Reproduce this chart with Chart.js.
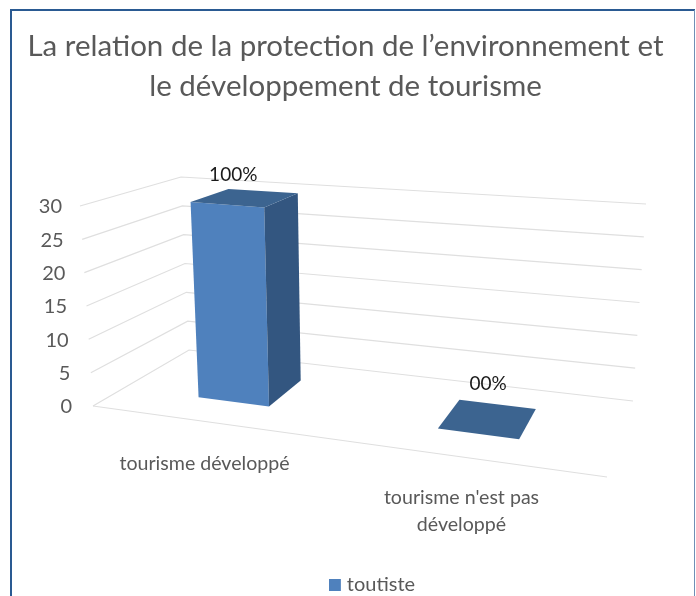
<!DOCTYPE html>
<html lang="fr">
<head>
<meta charset="utf-8">
<style>html,body{margin:0;padding:0;background:#fff}canvas{display:block}</style>
<script src="https://cdn.jsdelivr.net/npm/chart.js@4"></script>
</head>
<body>
<canvas id="c" width="696" height="596"></canvas>
<script>
const titleLines = ["La relation de la protection de l’environnement et", "le développement de tourisme"];
const categories = ["tourisme développé", ["tourisme n'est pas", "développé"]];
const seriesName = "toutiste";
const values = [30, 0];
const valueLabels = ["100%", "00%"];

const GREY = '#595959', GRID = '#dfdfdf';
const FRONT = '#4f81bd', SIDE = '#335680', TOP = '#3c6490';
const FONT = 'Lato';
// perspective frame: floor and top-plane corners
const floorQ = {fl:[93,406], bl:[189,350], br:[633,401], fr:[607,477]};
const topQ   = {fl:[80,206], bl:[181,177], br:[646,204], fr:[617,249]};
const DEPTH_FRONT = 0.33, DEPTH_BACK = 0.75;

const mix = (a,b,t)=>[a[0]+(b[0]-a[0])*t, a[1]+(b[1]-a[1])*t];
const plane = (q,u,w)=>mix(mix(q.fl,q.fr,u), mix(q.bl,q.br,u), w);
const project = (u,w,h)=>mix(plane(floorQ,u,w), plane(topQ,u,w), h);
const warp = u=>-0.0012+0.855*u+0.142*u*u;

// legend swatch: square sitting close to its text
const swatch = document.createElement('canvas');
swatch.width = 14; swatch.height = 12;
const sw = swatch.getContext('2d');
sw.fillStyle = FRONT; sw.fillRect(0,0,12,12);

function poly(ctx, pts, fill){
  ctx.beginPath();
  pts.forEach((p,i)=> i?ctx.lineTo(p[0],p[1]):ctx.moveTo(p[0],p[1]));
  ctx.closePath();
  ctx.fillStyle = fill;
  ctx.fill();
}

const perspective = {
  id:'perspective',
  afterLayout(chart){
    const l = chart.legend;
    l.left += 29.5; l.right += 29.5;
    l.top += 10; l.bottom += 10;
    if (l.adjustHitBoxes) l.adjustHitBoxes();
  },
  beforeDraw(chart){
    const ctx = chart.ctx;
    ctx.save();
    ctx.fillStyle='#fff'; ctx.fillRect(0,0,chart.width,chart.height);
    ctx.strokeStyle='#2a5a92'; ctx.lineWidth=2;
    ctx.beginPath(); ctx.moveTo(11,596); ctx.lineTo(11,10); ctx.lineTo(695,10); ctx.stroke();
    ctx.strokeStyle='#6f8fb5'; ctx.lineWidth=1;
    ctx.beginPath(); ctx.moveTo(694.5,10); ctx.lineTo(694.5,596); ctx.stroke();
    ctx.restore();
  },
  beforeDatasetsDraw(chart){
    const {ctx, scales:{x,y}} = chart;
    ctx.save();
    ctx.strokeStyle = GRID; ctx.lineWidth = 1.2;
    ctx.font = '20px '+FONT; ctx.fillStyle = GREY;
    ctx.textAlign='right'; ctx.textBaseline='middle';
    y.ticks.forEach((t,i)=>{
      const h = (y.bottom - y.getPixelForTick(i))/(y.bottom-y.top);
      const a = project(0,0,h), b = project(0,1,h), c = project(1,1,h);
      ctx.beginPath(); ctx.moveTo(a[0],a[1]); ctx.lineTo(b[0],b[1]); ctx.lineTo(c[0],c[1]); ctx.stroke();
      ctx.fillText(t.label, a[0]-18-3*(1-h), y.getPixelForTick(i)+1);
    });
    const f0 = project(0,0,0), f1 = project(1,0,0);
    ctx.beginPath(); ctx.moveTo(f0[0],f0[1]); ctx.lineTo(f1[0],f1[1]); ctx.stroke();
    ctx.textAlign='center'; ctx.textBaseline='middle';
    ctx.font = '19.6px '+FONT;
    x.ticks.forEach((t,i)=>{
      const u = (x.getPixelForTick(i)-x.left)/x.width;
      const p = project(u,0,0);
      const lines = [].concat(t.label);
      const y0 = lines.length>1 ? p[1]+38 : p[1]+40;
      lines.forEach((s,k)=>ctx.fillText(s, p[0]-17, y0+k*27));
    });
    ctx.restore();
  },
  beforeDatasetDraw(chart, args){
    const {ctx, scales:{x,y}} = chart;
    const meta = args.meta;
    ctx.save();
    meta.data.forEach((el,i)=>{
      const u0 = warp((el.x-el.width/2-x.left)/x.width);
      const u1 = warp((el.x+el.width/2-x.left)/x.width);
      const h = (y.bottom-el.y)/(y.bottom-y.top);
      const P = (u,w,v)=>project(u,w,v);
      if (h>0){
        poly(ctx,[P(u0,DEPTH_FRONT,h),P(u1,DEPTH_FRONT,h),P(u1,DEPTH_FRONT,0),P(u0,DEPTH_FRONT,0)],FRONT);
        poly(ctx,[P(u1,DEPTH_FRONT,h),P(u1,DEPTH_BACK,h),P(u1,DEPTH_BACK,0),P(u1,DEPTH_FRONT,0)],SIDE);
      }
      poly(ctx,[P(u0,DEPTH_FRONT,h),P(u1,DEPTH_FRONT,h),P(u1,DEPTH_BACK,h),P(u0,DEPTH_BACK,h)],TOP);
      const top = P((u0+u1)/2,(DEPTH_FRONT+DEPTH_BACK)/2,h);
      ctx.font='19px '+FONT; ctx.fillStyle='#1a1a1a';
      ctx.textAlign='center'; ctx.textBaseline='middle';
      ctx.fillText(valueLabels[i], top[0]+(h>0?-12:0), top[1]-(h>0?23:35));
    });
    ctx.restore();
    return false;
  }
};

new Chart(document.getElementById('c'),{
  type:'bar',
  data:{labels:categories, datasets:[{label:seriesName, data:values, backgroundColor:FRONT, barPercentage:0.31, categoryPercentage:1}]},
  plugins:[perspective],
  options:{
    responsive:false, animation:false, devicePixelRatio:1,
    layout:{padding:{left:0,right:5,top:0,bottom:1}},
    plugins:{
      tooltip:{enabled:false},
      title:{display:true,text:titleLines,color:GREY,font:{family:FONT,size:29.5,weight:'normal',lineHeight:1.356},padding:{top:26,bottom:100}},
      legend:{position:'bottom',labels:{color:GREY,usePointStyle:true,pointStyle:swatch,pointStyleWidth:2,boxHeight:12,padding:0,font:{family:FONT,size:20}}}
    },
    scales:{
      x:{grid:{display:false},border:{display:false},ticks:{display:false,autoSkip:false},afterFit(s){s.height=159;}},
      y:{min:0,max:30,grid:{display:false},border:{display:false},ticks:{display:false,stepSize:5},afterFit(s){s.width=96;}}
    }
  }
});
</script>
</body>
</html>
